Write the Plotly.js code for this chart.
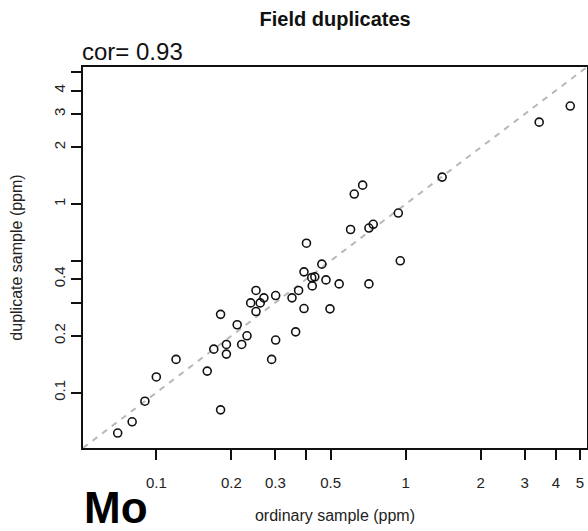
<!DOCTYPE html>
<html>
<head>
<meta charset="utf-8">
<script src="https://cdn.plot.ly/plotly-3.0.1.min.js"></script>
<style>
  html, body { margin: 0; padding: 0; background: #fff; }
  #chart { width: 588px; height: 531px; }
</style>
</head>
<body>
<div id="chart"></div>
<script>
// ---- data (ppm) ----
var ordinary = [0.400, 0.461, 0.391, 0.420, 0.432, 0.479, 0.422, 0.372, 0.350, 0.301,
                0.251, 0.270, 0.239, 0.261, 0.251, 0.391, 0.497, 0.181, 0.211, 0.231,
                0.362, 0.170, 0.191, 0.220, 0.301, 0.191, 0.290, 0.120, 0.160, 0.100,
                0.090, 0.181, 0.080, 0.070, 0.601, 0.712, 0.741, 0.541, 0.712, 0.951,
                4.57, 3.43, 1.40, 0.672, 0.622, 0.934];
var duplicate = [0.620, 0.480, 0.437, 0.407, 0.411, 0.396, 0.368, 0.348, 0.318, 0.327,
                 0.348, 0.318, 0.299, 0.299, 0.269, 0.279, 0.278, 0.260, 0.229, 0.200,
                 0.210, 0.170, 0.180, 0.180, 0.190, 0.160, 0.150, 0.150, 0.130, 0.121,
                 0.090, 0.081, 0.070, 0.061, 0.733, 0.746, 0.781, 0.377, 0.377, 0.500,
                 3.31, 2.72, 1.39, 1.26, 1.13, 0.896];
var corText = "cor= 0.93";
var elementLabel = "Mo";
var xTickVals = [0.1, 0.2, 0.3, 0.4, 0.5, 1, 2, 3, 4, 5];
var xTickText = ["0.1", "0.2", "0.3", "", "0.5", "1", "2", "3", "4", "5"];
var yTickVals = [0.1, 0.2, 0.3, 0.4, 0.5, 1, 2, 3, 4, 5];
var yTickText = ["0.1", "0.2", "", "0.4", "", "1", "2", "3", "4", ""];

// ---- layout config ----
var logRange = [-1.294, 0.727];
var FONT = "Liberation Sans, Arial, Helvetica, sans-serif";
var lineEnds = [Math.pow(10, logRange[0]), Math.pow(10, logRange[1])];

var traces = [
  {
    x: lineEnds, y: lineEnds, mode: "lines", type: "scatter",
    line: { color: "#b8b8b8", width: 2, dash: "6px,6px" },
    hoverinfo: "skip", showlegend: false
  },
  {
    x: ordinary, y: duplicate, mode: "markers", type: "scatter",
    marker: { symbol: "circle-open", size: 8, color: "#111", line: { width: 1.6, color: "#111" } },
    showlegend: false
  }
];

var axisCommon = {
  type: "log",
  range: logRange,
  showgrid: false,
  zeroline: false,
  showline: true,
  mirror: true,
  linecolor: "#111",
  linewidth: 2,
  ticks: "outside",
  ticklen: 10,
  tickwidth: 2,
  tickcolor: "#111",
  tickmode: "array",
  tickfont: { family: FONT, size: 15, color: "#222" }
};

var layout = {
  width: 588, height: 531,
  margin: { l: 83, r: 1, t: 67, b: 83, pad: 0 },
  paper_bgcolor: "#fff", plot_bgcolor: "#fff",
  font: { family: FONT, color: "#111" },
  title: {
    text: "<b>Field duplicates</b>",
    font: { family: FONT, size: 20, color: "#111" },
    x: 0.57, xanchor: "center", y: 0.964, yanchor: "middle"
  },
  xaxis: Object.assign({}, axisCommon, {
    tickvals: xTickVals, ticktext: xTickText,
    ticklabelstandoff: 10,
    title: { text: "ordinary sample (ppm)", font: { family: FONT, size: 16, color: "#222" }, standoff: 20 }
  }),
  yaxis: Object.assign({}, axisCommon, {
    tickvals: yTickVals, ticktext: yTickText,
    tickangle: -90,
    ticklabelstandoff: 0,
    title: { text: "duplicate sample (ppm)", font: { family: FONT, size: 16, color: "#222" }, standoff: 24 }
  }),
  annotations: [
    {
      text: corText, xref: "paper", yref: "paper", x: 0, y: 1,
      xanchor: "left", yanchor: "bottom", showarrow: false, yshift: 0, xshift: -3,
      font: { family: FONT, size: 24, color: "#111" }
    },
    {
      text: "<b>" + elementLabel + "</b>", xref: "paper", yref: "paper", x: 0, y: -0.157,
      xanchor: "left", yanchor: "middle", showarrow: false, xshift: -1,
      font: { family: FONT, size: 44, color: "#000" }
    }
  ]
};

Plotly.newPlot("chart", traces, layout, { displayModeBar: false, staticPlot: true });
</script>
</body>
</html>
